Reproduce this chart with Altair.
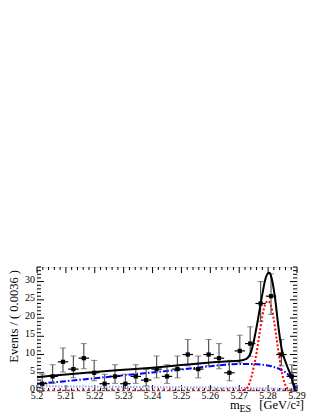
import altair as alt
import pandas as pd

# ---- data ----
bin_width = 0.0036
x_start = 5.2
counts = [2, 4, 8, 6, 9, 5, 2, 4, 2, 4, 3, 6, 4, 6, 10, 6, 10, 9, 5, 11, 13, 24, 26, 10, 4]
err_low = [0.7, 2.1, 5.2, 3.6, 6.1, 2.8, 0.7, 2.1, 0.7, 2.1, 1.4, 3.6, 2.1, 3.6, 6.9, 3.6,
           6.9, 6.1, 2.8, 7.7, 9.5, 19.1, 21.0, 6.9, 2.1]
err_high = [4.6, 7.2, 11.8, 9.6, 13.0, 8.4, 4.6, 7.2, 4.6, 7.2, 5.9, 9.6, 7.2, 9.6, 14.1, 9.6,
            14.1, 13.0, 8.4, 15.3, 17.6, 30.0, 32.1, 14.1, 7.2]

total_x = [5.200, 5.210, 5.220, 5.230, 5.240, 5.250, 5.260, 5.265, 5.270, 5.2725, 5.274,
           5.275, 5.276, 5.277, 5.278, 5.279, 5.280, 5.2805, 5.2812, 5.2824, 5.2835,
           5.2847, 5.2864, 5.2882, 5.2893, 5.290]
total_y = [3.8, 4.5, 5.2, 5.8, 6.4, 7.1, 7.8, 8.1, 8.3, 8.8, 10.5,
           13.5, 17.5, 22.0, 26.5, 30.5, 32.3, 32.4, 31.0, 25.5, 18.0,
           11.5, 7.2, 3.5, 0.3, 0.0]

comb_x = [5.200, 5.210, 5.220, 5.230, 5.240, 5.250, 5.260, 5.265, 5.270, 5.275, 5.278,
          5.280, 5.282, 5.284, 5.286, 5.2875, 5.2885, 5.2893, 5.290]
comb_y = [2.0, 2.7, 3.5, 4.3, 5.1, 5.9, 6.8, 7.2, 7.4, 7.4, 7.2,
          7.0, 6.6, 6.0, 5.1, 4.0, 2.6, 1.2, 0.0]

cont_x = [5.200, 5.220, 5.240, 5.260, 5.270, 5.280, 5.285, 5.288, 5.290]
cont_y = [1.3, 1.2, 1.05, 0.95, 0.85, 0.7, 0.55, 0.35, 0.0]

sig_x = [5.270, 5.272, 5.2735, 5.275, 5.276, 5.277, 5.278, 5.279, 5.280, 5.281,
         5.282, 5.283, 5.284, 5.285, 5.286, 5.287, 5.288]
sig_y = [0.0, 0.4, 2.0, 6.5, 10.5, 15.5, 20.5, 23.8, 24.7, 23.3,
         19.5, 14.0, 8.5, 4.2, 1.6, 0.4, 0.0]

peak_x = [5.200, 5.290]
peak_y = [0.15, 0.15]

x_major = [5.20, 5.21, 5.22, 5.23, 5.24, 5.25, 5.26, 5.27, 5.28, 5.29]
x_labels = ["5.2", "5.21", "5.22", "5.23", "5.24", "5.25", "5.26", "5.27", "5.28", "5.29"]
y_major = [0, 5, 10, 15, 20, 25, 30]
y_labels = ["0", "5", "10", "15", "20", "25", "30"]

W, H = 260, 124
XDOM = [5.2, 5.29]
YDOM = [0, 34]
FONT = "Liberation Serif"

centers = [round(x_start + bin_width * (i + 0.5), 5) for i in range(len(counts))]
pts = pd.DataFrame({
    "x": centers, "n": counts, "lo": err_low, "hi": err_high,
    "xl": [c - bin_width / 2 for c in centers], "xr": [c + bin_width / 2 for c in centers],
})

xs = alt.Scale(domain=XDOM, nice=False, zero=False)
ys = alt.Scale(domain=YDOM, nice=False, zero=False)


def XQ(f):
    return alt.X(f, scale=xs, axis=None)


def YQ(f):
    return alt.Y(f, scale=ys, axis=None)


def curve(xv, yv, color, dash=None, width=2.0):
    df = pd.DataFrame({"x": xv, "y": yv})
    kw = dict(color=color, strokeWidth=width, interpolate="monotone", clip=True)
    if dash:
        kw["strokeDash"] = dash
    return alt.Chart(df).mark_line(**kw).encode(x=XQ("x:Q"), y=YQ("y:Q"))


# ticks (inside the frame, all four sides)
x_minor = [round(5.2 + 0.002 * i, 4) for i in range(46)]
x_minor = [v for v in x_minor if all(abs(v - m) > 1e-6 for m in x_major)]
y_minor = [v for v in range(0, 35) if v % 5 != 0]

xt_maj = pd.DataFrame({"x": x_major, "t": x_labels})
xt_min = pd.DataFrame({"x": x_minor})
yt_maj = pd.DataFrame({"y": y_major, "t": y_labels})
yt_min = pd.DataFrame({"y": y_minor})


def xticks(df, L):
    b = alt.Chart(df).mark_rule(color="black", strokeWidth=1).encode(
        x=XQ("x:Q"), y=alt.value(H), y2=alt.value(H - L))
    t = alt.Chart(df).mark_rule(color="black", strokeWidth=1).encode(
        x=XQ("x:Q"), y=alt.value(0), y2=alt.value(L))
    return b + t


def yticks(df, L):
    l = alt.Chart(df).mark_rule(color="black", strokeWidth=1).encode(
        y=YQ("y:Q"), x=alt.value(0), x2=alt.value(L))
    r = alt.Chart(df).mark_rule(color="black", strokeWidth=1).encode(
        y=YQ("y:Q"), x=alt.value(W), x2=alt.value(W - L))
    return l + r


xlab = alt.Chart(xt_maj).mark_text(font=FONT, fontSize=10, color="black", align="center",
                                   baseline="alphabetic").encode(
    x=XQ("x:Q"), y=alt.value(H + 8), text="t:N")
ylab = alt.Chart(yt_maj).mark_text(font=FONT, fontSize=10, color="black", align="right",
                                   baseline="middle", dx=-2, dy=-2).encode(
    y=YQ("y:Q"), x=alt.value(0), text="t:N")

peak = curve(peak_x, peak_y, "#b03030", dash=[3, 2], width=1.5)
cont = curve(cont_x, cont_y, "#9b9bff", dash=[1.5, 1.5], width=2)
comb = curve(comb_x, comb_y, "#0000ff", dash=[6, 2, 1.5, 2], width=2)
sig = curve(sig_x, sig_y, "#ff0000", dash=[2, 2], width=2)
tot = curve(total_x, total_y, "black", width=2)

vbar = alt.Chart(pts).mark_rule(color="#555555", strokeWidth=1.2).encode(
    x=XQ("x:Q"), y=YQ("lo:Q"), y2="hi:Q")
cap_lo = alt.Chart(pts).mark_tick(color="#555555", orient="horizontal", size=6, thickness=1).encode(
    x=XQ("x:Q"), y=YQ("lo:Q"))
cap_hi = alt.Chart(pts).mark_tick(color="#555555", orient="horizontal", size=6, thickness=1).encode(
    x=XQ("x:Q"), y=YQ("hi:Q"))
hbar = alt.Chart(pts).mark_rule(color="black", strokeWidth=1.2).encode(
    x=XQ("xl:Q"), x2="xr:Q", y=YQ("n:Q"))
marker = alt.Chart(pts).mark_square(color="black", size=18, opacity=1).encode(
    x=XQ("x:Q"), y=YQ("n:Q"))


def label(text, x, y, size, align="left", angle=0):
    kw = dict(font=FONT, fontSize=size, color="black", align=align, baseline="alphabetic")
    if angle:
        kw["angle"] = angle
    return alt.Chart(pd.DataFrame({"t": [text]})).mark_text(**kw).encode(
        x=alt.value(x), y=alt.value(y), text="t:N")


ytitle = label("Events / ( 0.0036 )", -19, 3, 12.5, align="right", angle=270)
xt_m = label("m", 193, 141.5, 12.5)
xt_es = label("ES", 202.5, 144.5, 10)
xt_unit = label("[GeV/c²]", 267, 141.5, 12.5, align="right")

chart = alt.layer(
    xticks(xt_maj, 6), xticks(xt_min, 3), yticks(yt_maj, 7), yticks(yt_min, 4),
    xlab, ylab,
    peak, cont, comb, sig,
    vbar, cap_lo, cap_hi, hbar, marker,
    tot,
    ytitle, xt_m, xt_es, xt_unit,
).properties(
    width=W, height=H,
    autosize=alt.AutoSizeParams(type="none"),
    padding={"left": 29, "top": 259, "right": 17, "bottom": 24},
).configure_view(stroke="black", strokeWidth=1.2).configure(background="white")

chart.save("out.html", embed_options={"renderer": "svg", "actions": False})
